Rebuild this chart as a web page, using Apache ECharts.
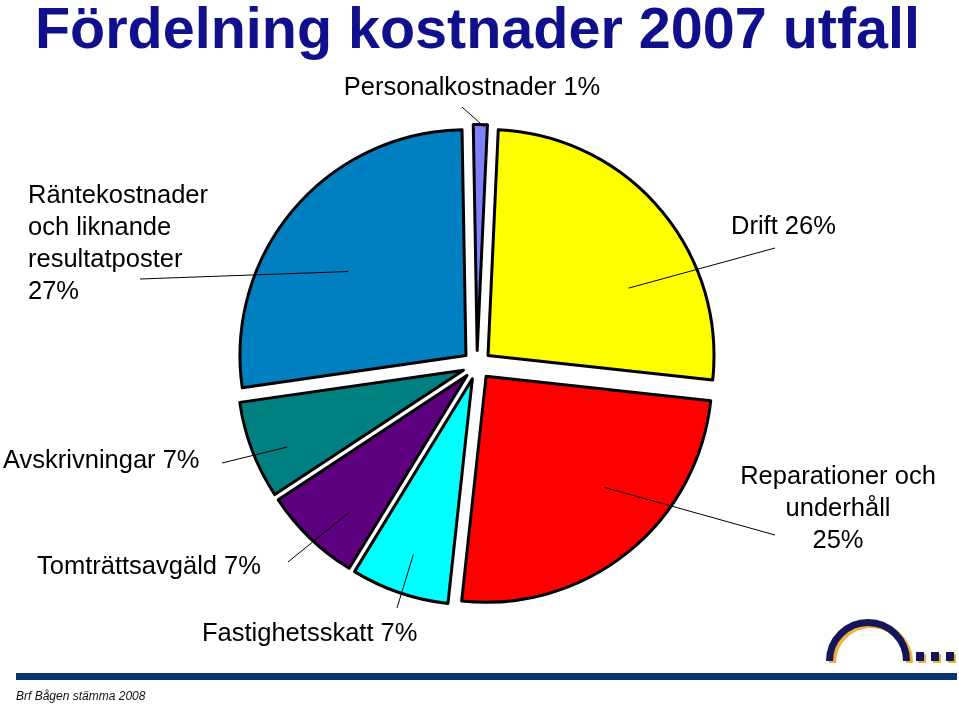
<!DOCTYPE html>
<html>
<head>
<meta charset="utf-8">
<script src="https://cdn.jsdelivr.net/npm/echarts@6/dist/echarts.min.js"></script>
<style>
html,body{margin:0;padding:0;background:#fff;}
#chart{width:959px;height:705px;}
</style>
</head>
<body>
<div id="chart"></div>
<script>
// ---- data ----
const categories = ['Personalkostnader', 'Drift', 'Reparationer och\nunderhåll', 'Fastighetsskatt', 'Tomträttsavgäld', 'Avskrivningar', 'Räntekostnader\noch liknande\nresultatposter'];
const values = [1, 26, 25, 7, 7, 7, 27];
const colors = ['#8080ff', '#ffff00', '#ff0000', '#00ffff', '#5c0080', '#008080', '#0080c0'];
const titleText = 'Fördelning kostnader 2007 utfall';
const footerText = 'Brf Bågen stämma 2008';

// ---- layout ----
const CX = 477, CY = 365, R = 226, OFFSET = 14.5, START = 91;
const FONT = '"Liberation Sans", Arial, Helvetica, sans-serif';
// label anchor positions and leader line: inner point given as (t = fraction through slice, rf = fraction of radius)
const LABELS = [
  {x: 472, y: 88,  align: 'center', end: [462, 107], t: 0.78, rf: 0.99},
  {x: 731, y: 227, align: 'left',   end: [775, 248], t: 0.66, rf: 0.69},
  {x: 838, y: 509, align: 'center', end: [775, 535], t: 0.41, rf: 0.72},
  {x: 202, y: 634, align: 'left',   end: [397, 608], t: 0.49, rf: 0.82},
  {x: 37,  y: 567, align: 'left',   end: [288, 562], t: 0.37, rf: 0.80},
  {x: 3,   y: 461, align: 'left',   end: [222, 463], t: 0.39, rf: 0.85},
  {x: 28,  y: 244, align: 'left',   end: [140, 279], t: 0.45, rf: 0.64}
];

const total = values.reduce((a, b) => a + b, 0);
function innerPoint(i) {
  let cum = 0;
  for (let k = 0; k < i; k++) cum += values[k];
  const span = values[i] / total * 360;
  const start = START - cum / total * 360;
  const mid = (start - span / 2) * Math.PI / 180;
  const a = (start - LABELS[i].t * span) * Math.PI / 180;
  const sx = CX + OFFSET * Math.cos(mid), sy = CY - OFFSET * Math.sin(mid);
  const r = LABELS[i].rf * R;
  return [sx + r * Math.cos(a), sy - r * Math.sin(a)];
}

const labelGraphics = [];
categories.forEach((c, i) => {
  const L = LABELS[i];
  const p = innerPoint(i);
  labelGraphics.push({
    type: 'line', z: 100, silent: true,
    shape: {x1: p[0], y1: p[1], x2: L.end[0], y2: L.end[1]},
    style: {stroke: '#000', lineWidth: 1}
  });
  labelGraphics.push({
    type: 'text', z: 100, silent: true, x: L.x, y: L.y,
    style: {
      text: c + (c.indexOf('\n') >= 0 ? '\n' : ' ') + values[i] + '%',
      fill: '#000', font: '25.5px ' + FONT, lineHeight: 32,
      align: L.align, verticalAlign: 'middle'
    }
  });
});

const chart = echarts.init(document.getElementById('chart'), null, {renderer: 'canvas'});
const option = {
  animation: false,
  backgroundColor: '#ffffff',
  title: {
    text: titleText, left: 35, top: 3, padding: 0,
    textStyle: {fontSize: 57.5, fontWeight: 'bold', color: '#10108c', fontFamily: FONT}
  },
  series: [{
    type: 'pie',
    center: [CX, CY],
    radius: R,
    startAngle: START,
    clockwise: true,
    avoidLabelOverlap: false,
    selectedMode: 'multiple',
    selectedOffset: OFFSET,
    emphasis: {scale: false, disabled: true},
    itemStyle: {borderColor: '#000', borderWidth: 3},
    select: {itemStyle: {borderColor: '#000', borderWidth: 3}},
    label: {show: false},
    labelLine: {show: false},
    data: categories.map((c, i) => ({
      name: c, value: values[i], selected: true,
      itemStyle: {color: colors[i]}
    }))
  }],
  graphic: labelGraphics.concat([
    {type: 'rect', shape: {x: 16, y: 673, width: 941, height: 7}, style: {fill: '#0a3670'}},
    {type: 'text', x: 16, y: 697, style: {text: footerText, fill: '#111', font: 'italic 12px ' + FONT, verticalAlign: 'middle', align: 'left'}},
    // logo
    {type: 'arc', shape: {cx: 871, cy: 663, r: 38.5, startAngle: Math.PI, endAngle: 2 * Math.PI, clockwise: true}, style: {stroke: '#f0b040', lineWidth: 7, fill: null}},
    {type: 'arc', shape: {cx: 868, cy: 661, r: 38.5, startAngle: Math.PI, endAngle: 2 * Math.PI, clockwise: true}, style: {stroke: '#15155c', lineWidth: 7, fill: null}},
    {type: 'rect', shape: {x: 918, y: 654, width: 8, height: 9}, style: {fill: '#f0b040'}},
    {type: 'rect', shape: {x: 933, y: 654, width: 8, height: 9}, style: {fill: '#f0b040'}},
    {type: 'rect', shape: {x: 948, y: 654, width: 8, height: 9}, style: {fill: '#f0b040'}},
    {type: 'rect', shape: {x: 916, y: 652, width: 8, height: 9}, style: {fill: '#15155c'}},
    {type: 'rect', shape: {x: 931, y: 652, width: 8, height: 9}, style: {fill: '#15155c'}},
    {type: 'rect', shape: {x: 946, y: 652, width: 8, height: 9}, style: {fill: '#15155c'}}
  ])
};
chart.setOption(option);
</script>
</body>
</html>
